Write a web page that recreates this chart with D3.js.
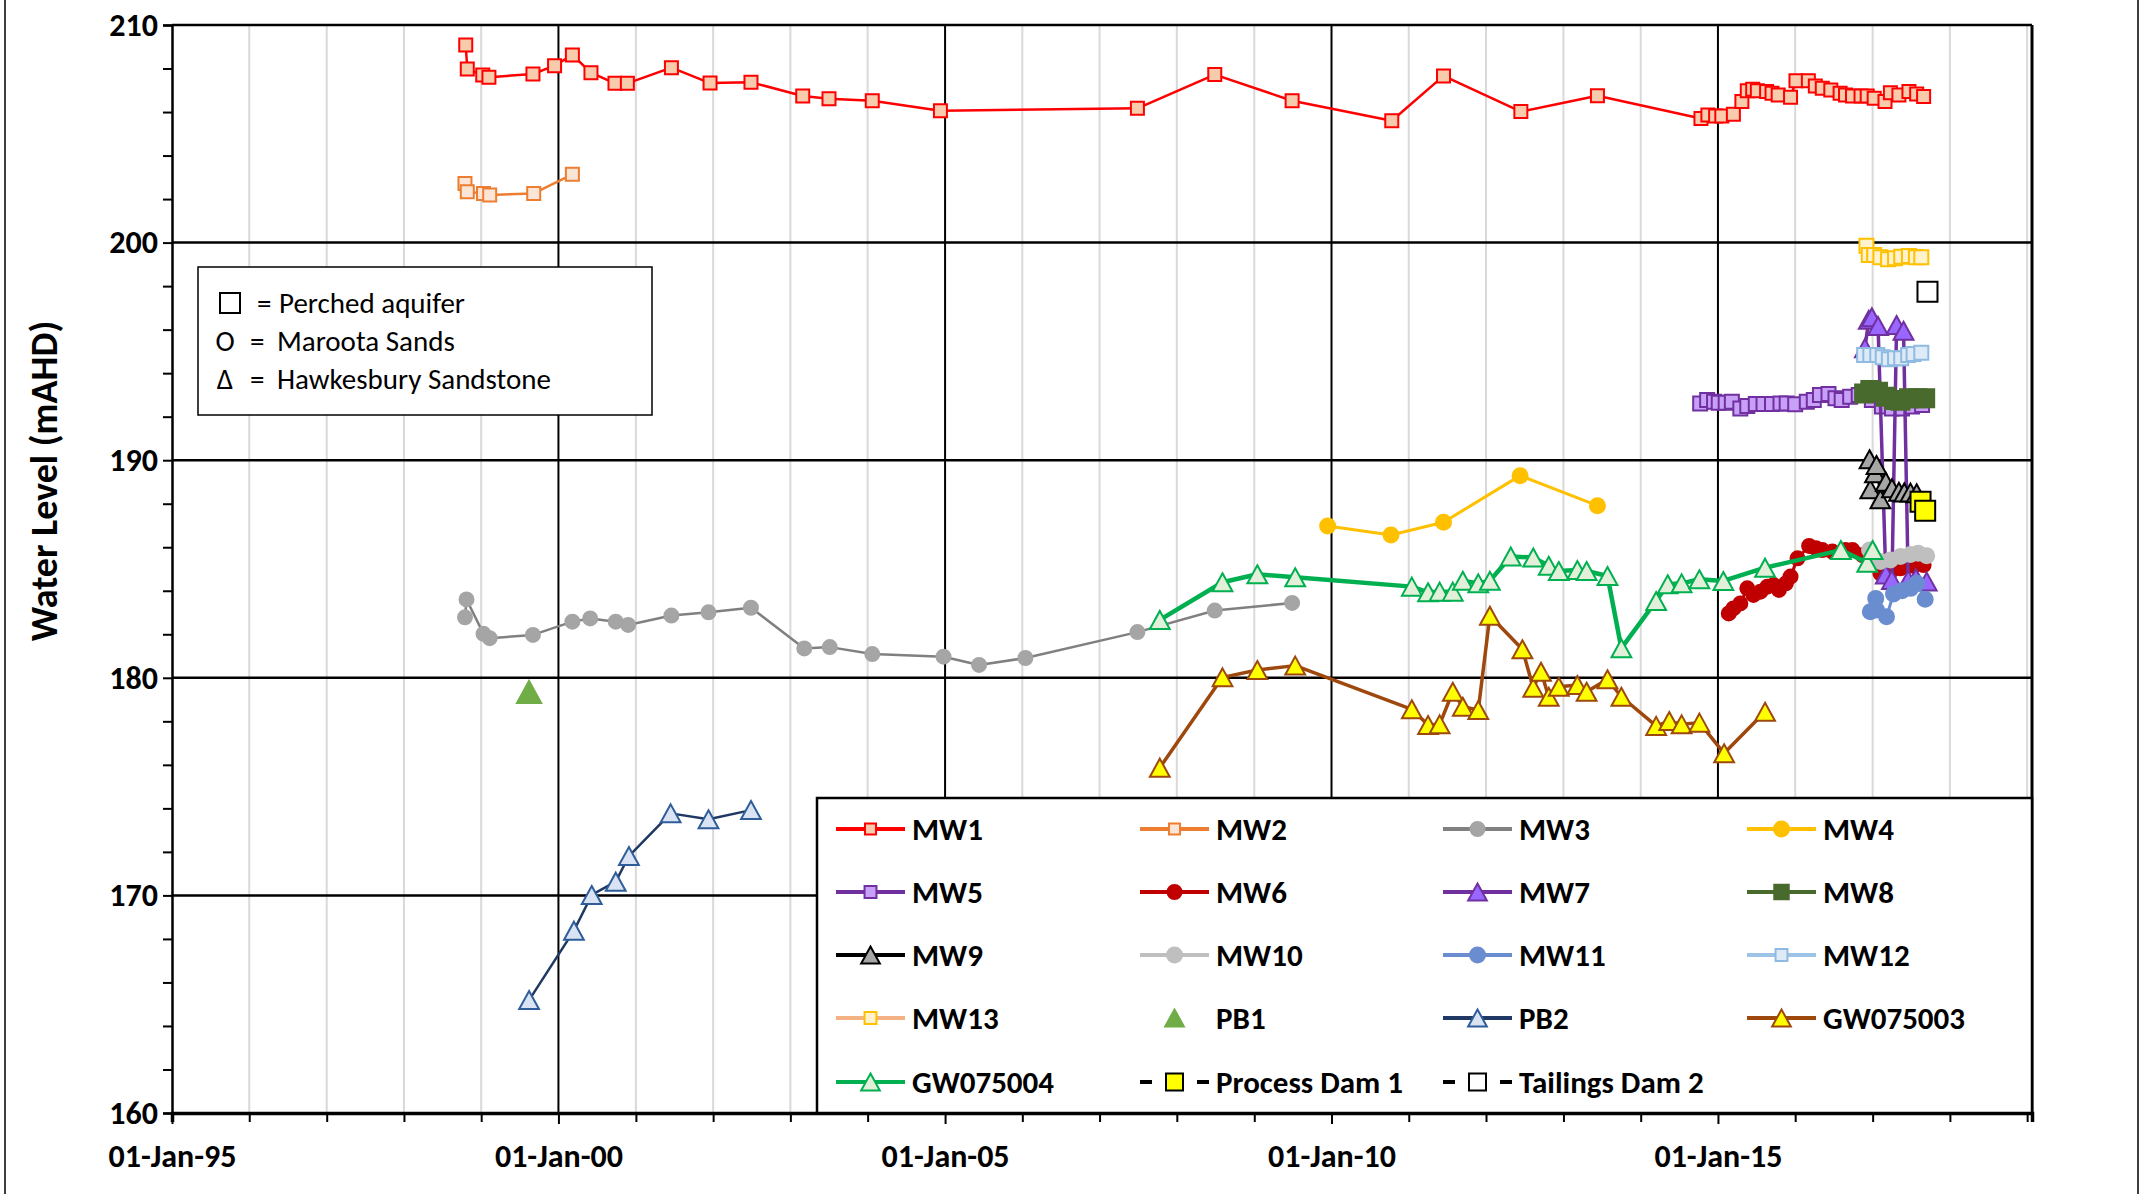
<!DOCTYPE html>
<html>
<head>
<meta charset="utf-8">
<script src="https://cdn.jsdelivr.net/npm/d3@7"></script>
<style>
  body { margin: 0; background: #fff; }
  text { font-family: Carlito, "Liberation Sans", Arial, sans-serif; }
</style>
</head>
<body>
<div id="chart"></div>
<script>
// water level readings, [decimal year, mAHD]
var mw1 = [[1998.80,209.08],[1998.82,207.98],[1999.02,207.70],[1999.10,207.60],[1999.67,207.75],[1999.95,208.13],[2000.18,208.62],[2000.42,207.81],[2000.73,207.32],[2000.89,207.32],[2001.46,208.04],[2001.96,207.33],[2002.49,207.37],[2003.16,206.74],[2003.50,206.61],[2004.06,206.52],[2004.94,206.06],[2007.49,206.17],[2008.49,207.72],[2009.49,206.52],[2010.78,205.60],[2011.45,207.66],[2012.45,206.02],[2013.44,206.75],[2014.78,205.70],[2014.87,205.86],[2014.97,205.82],[2015.05,205.82],[2015.20,205.90],[2015.31,206.48],[2015.38,206.98],[2015.45,207.05],[2015.51,206.98],[2015.63,206.94],[2015.70,206.86],[2015.78,206.78],[2015.94,206.68],[2016.01,207.44],[2016.17,207.44],[2016.26,207.20],[2016.35,207.09],[2016.46,207.01],[2016.58,206.86],[2016.65,206.78],[2016.74,206.74],[2016.85,206.74],[2016.93,206.74],[2017.02,206.63],[2017.16,206.48],[2017.23,206.89],[2017.34,206.78],[2017.47,206.94],[2017.57,206.83],[2017.66,206.71]];
var mw2 = [[1998.79,202.72],[1998.82,202.34],[1999.03,202.26],[1999.11,202.19],[1999.68,202.26],[2000.18,203.14]];
var mw3 = [[1998.79,182.78],[1998.81,183.60],[1999.03,182.02],[1999.11,181.82],[1999.67,181.97],[2000.18,182.58],[2000.41,182.73],[2000.74,182.58],[2000.90,182.43],[2001.46,182.86],[2001.94,183.01],[2002.49,183.22],[2003.18,181.35],[2003.51,181.41],[2004.06,181.09],[2004.98,180.97],[2005.44,180.59],[2006.04,180.91],[2007.49,182.10],[2008.49,183.09],[2009.49,183.44]];
var mw4 = [[2009.95,186.98],[2010.77,186.56],[2011.45,187.15],[2012.44,189.29],[2013.44,187.91]];
var mw5 = [[2014.77,192.61],[2014.86,192.77],[2014.95,192.69],[2015.01,192.64],[2015.10,192.64],[2015.18,192.69],[2015.29,192.38],[2015.38,192.49],[2015.49,192.58],[2015.59,192.58],[2015.70,192.58],[2015.81,192.61],[2015.89,192.61],[2016.00,192.57],[2016.15,192.69],[2016.24,192.77],[2016.32,193.00],[2016.43,193.04],[2016.52,192.85],[2016.60,192.77],[2016.71,192.92],[2016.82,193.00],[2016.99,192.77],[2017.12,192.47],[2017.25,192.38],[2017.38,192.38],[2017.51,192.47],[2017.64,192.54]];
var mw6 = [[2015.14,182.96],[2015.20,183.19],[2015.29,183.42],[2015.38,184.11],[2015.46,183.81],[2015.55,183.96],[2015.64,184.19],[2015.72,184.26],[2015.79,184.04],[2015.88,184.34],[2015.94,184.65],[2016.03,185.49],[2016.18,186.06],[2016.27,185.95],[2016.35,185.87],[2016.48,185.80],[2016.65,185.87],[2016.74,185.87],[2016.87,185.64],[2016.99,185.26],[2017.10,184.80],[2017.23,184.87],[2017.36,185.03],[2017.53,185.14],[2017.66,185.18]];
var mw7 = [[2016.90,195.15],[2016.95,196.45],[2016.99,196.57],[2017.07,196.17],[2017.17,184.75],[2017.25,184.50],[2017.31,196.21],[2017.40,195.95],[2017.46,184.50],[2017.56,184.57],[2017.70,184.42]];
var mw8 = [[2016.89,193.07],[2016.97,193.23],[2017.07,193.15],[2017.17,192.92],[2017.28,192.77],[2017.36,192.73],[2017.47,192.85],[2017.58,192.85],[2017.68,192.85]];
var mw9 = [[2016.96,190.04],[2016.97,188.66],[2017.03,189.40],[2017.05,189.78],[2017.10,188.20],[2017.17,189.01],[2017.25,188.71],[2017.34,188.55],[2017.41,188.52],[2017.49,188.51],[2017.57,188.48]];
var mw10 = [[2016.96,185.87],[2017.10,185.34],[2017.23,185.41],[2017.36,185.57],[2017.49,185.67],[2017.59,185.72],[2017.70,185.61]];
var mw11 = [[2016.97,183.04],[2017.04,183.65],[2017.05,183.12],[2017.18,182.81],[2017.27,183.85],[2017.38,184.00],[2017.49,184.11],[2017.57,184.34],[2017.68,183.61]];
var mw12 = [[2016.89,194.83],[2016.97,194.83],[2017.06,194.83],[2017.13,194.73],[2017.21,194.64],[2017.29,194.68],[2017.37,194.68],[2017.46,194.83],[2017.53,194.88],[2017.63,194.94]];
var mw13 = [[2016.92,199.85],[2016.95,199.43],[2017.02,199.43],[2017.10,199.33],[2017.20,199.23],[2017.29,199.28],[2017.37,199.35],[2017.47,199.38],[2017.56,199.33],[2017.63,199.33]];
var pb1 = [[1999.62,179.35]];
var pb2 = [[1999.62,165.19],[2000.20,168.38],[2000.43,170.02],[2000.74,170.63],[2000.91,171.81],[2001.45,173.77],[2001.94,173.50],[2002.49,173.92]];
var gw075003 = [[2007.78,175.87],[2008.59,180.02],[2009.04,180.36],[2009.53,180.56],[2011.04,178.55],[2011.25,177.83],[2011.40,177.86],[2011.57,179.36],[2011.70,178.67],[2011.90,178.52],[2012.05,182.85],[2012.47,181.31],[2012.61,179.54],[2012.71,180.28],[2012.81,179.13],[2012.94,179.59],[2013.18,179.67],[2013.30,179.36],[2013.57,179.93],[2013.75,179.13],[2014.20,177.79],[2014.37,178.01],[2014.53,177.86],[2014.76,177.94],[2015.08,176.53],[2015.61,178.44]];
var gw075004 = [[2007.78,182.66],[2008.59,184.39],[2009.04,184.76],[2009.53,184.62],[2011.04,184.19],[2011.25,183.93],[2011.40,183.96],[2011.57,183.96],[2011.70,184.46],[2011.90,184.34],[2012.05,184.46],[2012.32,185.57],[2012.61,185.53],[2012.81,185.15],[2012.94,184.91],[2013.18,184.95],[2013.30,184.91],[2013.57,184.68],[2013.75,181.36],[2014.20,183.53],[2014.35,184.30],[2014.53,184.34],[2014.76,184.53],[2015.07,184.45],[2015.61,185.06],[2016.59,185.87],[2016.93,185.29],[2017.00,185.87]];
var processDam1 = [[2017.62,188.09],[2017.68,187.68]];
var tailingsDam2 = [[2017.71,197.74]];

var seriesNames = ["MW1","MW2","MW3","MW4","MW5","MW6","MW7","MW8","MW9","MW10","MW11","MW12","MW13","PB1","PB2","GW075003","GW075004","Process Dam 1","Tailings Dam 2"];
var seriesData = [mw1,mw2,mw3,mw4,mw5,mw6,mw7,mw8,mw9,mw10,mw11,mw12,mw13,pb1,pb2,gw075003,gw075004,processDam1,tailingsDam2];
var yTicks = d3.range(160, 211, 2);
var xLabelYears = [1995, 2000, 2005, 2010, 2015];
var notes = [["square", "Perched aquifer"], ["O", "Maroota Sands"], ["\u0394", "Hawkesbury Sandstone"]];

// look of each series
var styles = {
  "MW1":  {line:"#FF0000", lw:2.5, shape:"square", size:13, fill:"#F8CBAD", stroke:"#FF0000"},
  "MW2":  {line:"#ED7D31", lw:2.5, shape:"square", size:13, fill:"#FBE5D6", stroke:"#ED7D31"},
  "MW3":  {line:"#808080", lw:2.5, shape:"circle", size:14, fill:"#A5A5A5", stroke:"#A5A5A5"},
  "MW4":  {line:"#FFC000", lw:3, shape:"circle", size:15, fill:"#FFC000", stroke:"#FFC000"},
  "MW5":  {line:"#7030A0", lw:3, shape:"square", size:14, fill:"#C9A0F8", stroke:"#7030A0"},
  "MW6":  {line:"#C00000", lw:3, shape:"circle", size:14, fill:"#C00000", stroke:"#C00000"},
  "MW7":  {line:"#7030A0", lw:3.5, shape:"triangle", size:18, fill:"#9966FF", stroke:"#7030A0"},
  "MW8":  {line:"#486A2C", lw:3, shape:"square", size:18, fill:"#486A2C", stroke:"#486A2C"},
  "MW9":  {line:"#000000", lw:2, shape:"triangle", size:18, fill:"#A6A6A6", stroke:"#000000"},
  "MW10": {line:"#BFBFBF", lw:3, shape:"circle", size:15, fill:"#BFBFBF", stroke:"#BFBFBF"},
  "MW11": {line:"#6A8DD0", lw:3, shape:"circle", size:15, fill:"#6A8DD0", stroke:"#6A8DD0"},
  "MW12": {line:"#9DC3E6", lw:3, shape:"square", size:14, fill:"#DEEBF7", stroke:"#8FBBE3"},
  "MW13": {line:"#F4B183", lw:3, shape:"square", size:14, fill:"#FFF2CC", stroke:"#FFC000"},
  "PB1":  {line:null, lw:0, shape:"triangle", size:22, fill:"#70AD47", stroke:"#70AD47"},
  "PB2":  {line:"#1F3864", lw:2.5, shape:"triangle", size:18, fill:"#DAE3F3", stroke:"#2E5D9A"},
  "GW075003": {line:"#9E480E", lw:3.5, shape:"triangle", size:18, fill:"#FFFF00", stroke:"#9E480E"},
  "GW075004": {line:"#00B050", lw:4.5, shape:"triangle", size:18, fill:"#E2F0D9", stroke:"#00B050"},
  "Process Dam 1":  {line:"#000000", lw:4, dash:"12 45", shape:"square", size:20, fill:"#FFFF00", stroke:"#000000"},
  "Tailings Dam 2": {line:"#000000", lw:4, dash:"12 45", shape:"square", size:20, fill:"#FFFFFF", stroke:"#000000"}
};

var W = 2145, H = 1194;
var plot = {left: 172, right: 2032, top: 25, bottom: 1113};

function toDate(y) {
  var yr = Math.floor(y);
  var a = Date.UTC(yr, 0, 1), b = Date.UTC(yr + 1, 0, 1);
  return new Date(a + (y - yr) * (b - a));
}

var x = d3.scaleUtc()
    .domain([new Date(Date.UTC(1995, 0, 1)), new Date(Date.UTC(2019, 0, 24))])
    .range([plot.left, plot.right]);
var y = d3.scaleLinear().domain([160, 210]).range([plot.bottom, plot.top]);

function markerPath(shape, s) {
  if (shape == "square") return "M" + (-s/2) + "," + (-s/2) + "h" + s + "v" + s + "h" + (-s) + "Z";
  if (shape == "triangle") {
    var w = s * 1.1;
    return "M0," + (-s/2) + "L" + (w/2) + "," + (s/2) + "L" + (-w/2) + "," + (s/2) + "Z";
  }
  var r = s / 2;
  return "M" + r + ",0A" + r + "," + r + " 0 1,1 " + (-r) + ",0A" + r + "," + r + " 0 1,1 " + r + ",0Z";
}

var svg = d3.select("#chart").append("svg")
    .attr("width", W).attr("height", H);
svg.append("rect").attr("width", W).attr("height", H).attr("fill", "#fff");

// outer chart frame
svg.append("rect").attr("x", 5).attr("y", -10).attr("width", 2133).attr("height", H + 20)
    .attr("fill", "none").attr("stroke", "#000").attr("stroke-width", 1.5);

var years = d3.utcYear.range(new Date(Date.UTC(1995, 0, 1)), new Date(Date.UTC(2019, 0, 2)));

// minor gridlines (every year)
svg.append("g").selectAll("line")
    .data(years.filter(function(d) { return d.getUTCFullYear() % 5 != 0; }))
    .enter().append("line")
    .attr("x1", function(d) { return x(d); }).attr("x2", function(d) { return x(d); })
    .attr("y1", plot.top).attr("y2", plot.bottom)
    .attr("stroke", "#D9D9D9").attr("stroke-width", 2);

// major gridlines
svg.append("g").selectAll("line")
    .data(years.filter(function(d) { return d.getUTCFullYear() % 5 == 0 && d.getUTCFullYear() > 1995; }))
    .enter().append("line")
    .attr("x1", function(d) { return x(d); }).attr("x2", function(d) { return x(d); })
    .attr("y1", plot.top).attr("y2", plot.bottom)
    .attr("stroke", "#000").attr("stroke-width", 2);

svg.append("g").selectAll("line")
    .data(d3.range(170, 211, 10))
    .enter().append("line")
    .attr("x1", plot.left).attr("x2", plot.right)
    .attr("y1", function(d) { return y(d); }).attr("y2", function(d) { return y(d); })
    .attr("stroke", "#000").attr("stroke-width", 2.5);

svg.append("line").attr("x1", plot.right).attr("x2", plot.right)
    .attr("y1", plot.top).attr("y2", plot.bottom)
    .attr("stroke", "#000").attr("stroke-width", 3);

// axes
var yAxis = svg.append("g")
    .attr("transform", "translate(" + plot.left + ",0)")
    .call(d3.axisLeft(y).tickValues(yTicks).tickSize(9).tickPadding(5)
      .tickFormat(function(d) { return d % 10 == 0 ? d : ""; }));
yAxis.select(".domain").attr("stroke-width", 2.5);
yAxis.selectAll(".tick line").attr("stroke-width", 2);
yAxis.selectAll("text").attr("font-size", 32).attr("font-weight", "bold").attr("fill", "#000");

var fmt = d3.utcFormat("%d-%b-%y");
var xAxis = svg.append("g")
    .attr("transform", "translate(0," + plot.bottom + ")")
    .call(d3.axisBottom(x).tickValues(years).tickSize(9).tickPadding(22)
      .tickFormat(function(d) { return xLabelYears.indexOf(d.getUTCFullYear()) >= 0 ? fmt(d) : ""; }));
xAxis.select(".domain").attr("stroke-width", 3.5);
xAxis.selectAll(".tick line").attr("stroke-width", 2)
    .attr("y2", function(d) { return d.getUTCFullYear() % 5 == 0 ? 11 : 9; });
xAxis.selectAll("text").attr("font-size", 32).attr("font-weight", "bold").attr("fill", "#000");

svg.append("text")
    .attr("transform", "translate(44,481) rotate(-90)")
    .attr("text-anchor", "middle").attr("dominant-baseline", "central")
    .attr("font-size", 38).attr("font-weight", "bold")
    .text("Water Level (mAHD)");

// notes box
var nb = svg.append("g");
nb.append("rect").attr("x", 198).attr("y", 267).attr("width", 454).attr("height", 148)
    .attr("fill", "#fff").attr("stroke", "#000").attr("stroke-width", 1.5);
notes.forEach(function(n, i) {
  var ty = 313 + i * 38;
  if (n[0] == "square") {
    nb.append("rect").attr("x", 220).attr("y", 293).attr("width", 20).attr("height", 20)
      .attr("fill", "none").attr("stroke", "#000").attr("stroke-width", 2);
  } else {
    nb.append("text").attr("x", 225).attr("y", ty).attr("text-anchor", "middle").attr("font-size", 29).text(n[0]);
  }
  nb.append("text").attr("x", i == 0 ? 257 : 250).attr("y", ty).attr("font-size", 29).text("=");
  nb.append("text").attr("x", i == 0 ? 279 : 277).attr("y", ty).attr("font-size", 29).text(n[1]);
});

// series
var line = d3.line()
    .x(function(d) { return x(toDate(d[0])); })
    .y(function(d) { return y(d[1]); });

seriesNames.forEach(function(name, i) {
  var st = styles[name];
  var g = svg.append("g");
  if (st.line && seriesData[i].length > 1) {
    g.append("path").datum(seriesData[i]).attr("d", line)
      .attr("fill", "none").attr("stroke", st.line).attr("stroke-width", st.lw)
      .attr("stroke-dasharray", st.dash ? "6 4" : null)
      .attr("stroke-linejoin", "round");
  }
  g.selectAll(".m").data(seriesData[i]).enter().append("path")
    .attr("transform", function(d) { return "translate(" + x(toDate(d[0])) + "," + y(d[1]) + ")"; })
    .attr("d", markerPath(st.shape, st.size))
    .attr("fill", st.fill).attr("stroke", st.stroke).attr("stroke-width", 2);
});

// legend
var lg = svg.append("g");
lg.append("rect").attr("x", 817).attr("y", 798).attr("width", 1215).attr("height", 315)
    .attr("fill", "#fff").attr("stroke", "#000").attr("stroke-width", 2.5);
var colX = [836, 1140, 1443, 1747], rowY = [829, 892, 955, 1018, 1082];
seriesNames.forEach(function(name, i) {
  var st = styles[name];
  var cx = colX[i % 4], cy = rowY[Math.floor(i / 4)];
  var e = lg.append("g");
  if (st.line) {
    e.append("line").attr("x1", cx).attr("x2", cx + 69).attr("y1", cy).attr("y2", cy)
      .attr("stroke", st.line).attr("stroke-width", st.dash ? st.lw : 4)
      .attr("stroke-dasharray", st.dash || null);
  }
  e.append("path").attr("transform", "translate(" + (cx + 34.5) + "," + cy + ")")
    .attr("d", markerPath(st.shape, Math.min(st.size, 17) * (st.shape == "square" && !st.dash ? 0.85 : 1)))
    .attr("fill", st.fill).attr("stroke", st.stroke).attr("stroke-width", 2);
  e.append("text").attr("x", cx + 76).attr("y", cy).attr("dy", "0.35em")
    .attr("font-size", 31).attr("font-weight", "bold").text(name);
});
</script>
</body>
</html>
